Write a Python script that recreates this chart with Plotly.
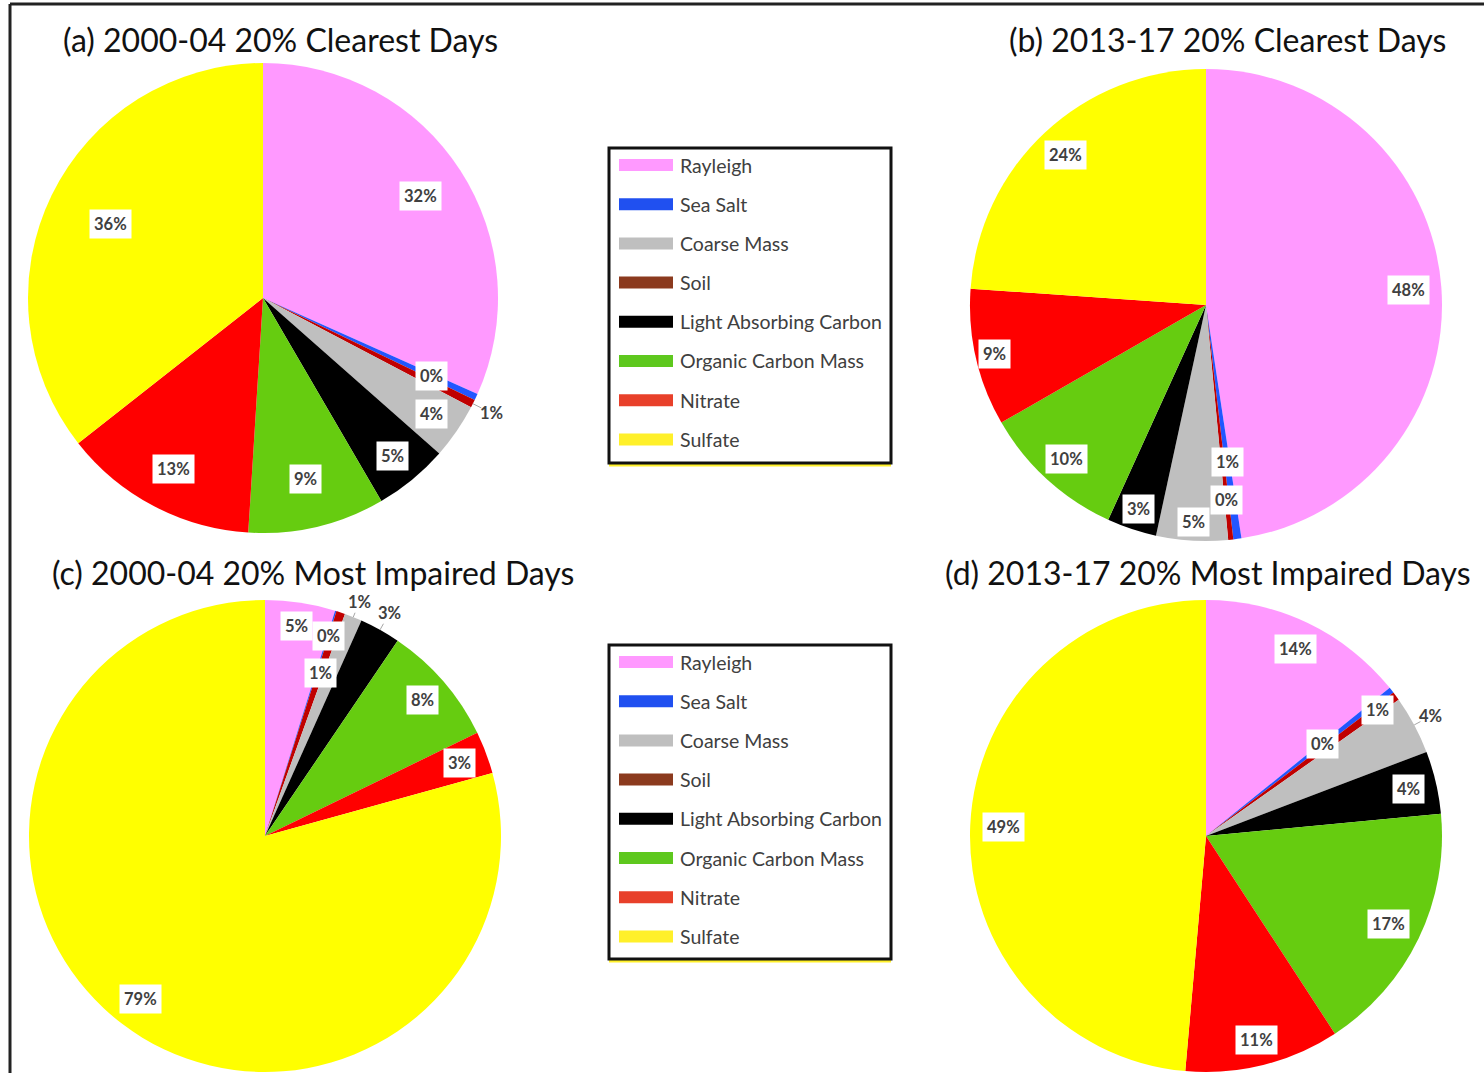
import math
import plotly.graph_objects as go

W, H = 1484, 1073

# ---- data -------------------------------------------------------------
slice_order = ["Rayleigh", "Sea Salt", "Soil", "Coarse Mass",
               "Light Absorbing Carbon", "Organic Carbon Mass", "Nitrate", "Sulfate"]
legend_order = ["Rayleigh", "Sea Salt", "Coarse Mass", "Soil",
                "Light Absorbing Carbon", "Organic Carbon Mass", "Nitrate", "Sulfate"]

titles = ["(a) 2000-04 20% Clearest Days", "(b) 2013-17 20% Clearest Days",
          "(c) 2000-04 20% Most Impaired Days", "(d) 2013-17 20% Most Impaired Days"]

# percent contributions, in slice_order
clear_2000_04 = [31.7, 0.45, 0.55, 3.8, 5.1, 9.4, 13.4, 35.6]
clear_2013_17 = [47.6, 0.55, 0.35, 4.9, 3.4, 9.9, 9.4, 23.9]
impaired_2000_04 = [4.8, 0.1, 0.6, 1.2, 2.8, 8.3, 2.9, 79.3]
impaired_2013_17 = [14.2, 0.4, 0.6, 4.0, 4.3, 17.3, 10.6, 48.6]

# ---- style ------------------------------------------------------------
slice_colors = {"Rayleigh": "#FF99FF", "Sea Salt": "#2256FF", "Soil": "#C00000",
                "Coarse Mass": "#BFBFBF", "Light Absorbing Carbon": "#000000",
                "Organic Carbon Mass": "#66CC10", "Nitrate": "#FF0000", "Sulfate": "#FFFF00"}
legend_colors = {"Rayleigh": "#FF99FF", "Sea Salt": "#2050F0", "Coarse Mass": "#BFBFBF",
                 "Soil": "#8B3A1E", "Light Absorbing Carbon": "#000000",
                 "Organic Carbon Mass": "#5EC81E", "Nitrate": "#E8402A", "Sulfate": "#FFF02A"}

# pie geometry in pixels (centre x, centre y, radius), title centre
pies = [
    dict(values=clear_2000_04, c=(263, 298, 235), title=(280, 40),
         lab_r=[0.80, 0.79, 1.09, 0.87, 0.87, 0.79, 0.82, 0.72]),
    dict(values=clear_2013_17, c=(1206, 305, 236), title=(1227, 40),
         lab_r=[0.86, 0.67, 0.83, 0.92, 0.91, 0.88, 0.92, 0.87]),
    dict(values=impaired_2000_04, c=(265, 836, 236), title=(313, 572),
         lab_r=[0.90, 0.89, 0.73, 1.07, 1.08, 0.88, 0.88, 0.87]),
    dict(values=impaired_2013_17, c=(1206, 836, 236), title=(1208, 572),
         lab_r=[0.88, 0.63, 0.90, 1.08, 0.88, 0.86, 0.89, 0.86]),
]

legend_boxes = [(609, 148, 891, 463), (609, 645, 891, 959)]
legend_first_y = [165, 662]
legend_step = 39.2

TXT = "#404040"
FONT = "Lato"


def px(x):
    return x / W


def py(y):
    return 1 - y / H


fig = go.Figure()
annotations = []
shapes = []

for i, p in enumerate(pies):
    cx, cy, r = p["c"]
    fig.add_trace(go.Pie(
        labels=slice_order, values=p["values"], sort=False, direction="clockwise",
        rotation=0, textinfo="none", hoverinfo="label+percent",
        marker=dict(colors=[slice_colors[s] for s in slice_order], line=dict(width=0)),
        domain=dict(x=[px(cx - r), px(cx + r)], y=[py(cy + r), py(cy - r)]),
        showlegend=False,
    ))
    total = sum(p["values"])
    cum = 0.0
    for v, f in zip(p["values"], p["lab_r"]):
        theta = math.radians((cum + v / 2) / total * 360)
        cum += v
        lx = cx + f * r * math.sin(theta)
        ly = cy - f * r * math.cos(theta)
        txt = f"{v / total * 100:.0f}%"
        outside = f > 1
        if outside:
            x0 = cx + 1.0 * r * math.sin(theta)
            y0 = cy - 1.0 * r * math.cos(theta)
            x1 = cx + (f - 0.05) * r * math.sin(theta)
            y1 = cy - (f - 0.05) * r * math.cos(theta)
            shapes.append(dict(type="line", xref="paper", yref="paper",
                               x0=px(x0), y0=py(y0), x1=px(x1), y1=py(y1),
                               line=dict(color="#A6A6A6", width=1)))
        annotations.append(dict(
            x=px(lx), y=py(ly), xref="paper", yref="paper", text=f"<b>{txt}</b>",
            showarrow=False, font=dict(family=FONT, size=16.5, color=TXT),
            bgcolor=None if outside else "white", borderpad=4,
            xanchor="center", yanchor="middle"))
    tx, ty = p["title"]
    annotations.append(dict(x=px(tx), y=py(ty), xref="paper", yref="paper",
                            text=titles[i], showarrow=False,
                            font=dict(family=FONT, size=32, color="#111111"),
                            xanchor="center", yanchor="middle"))

# legends
for (x0, y0, x1, y1), fy in zip(legend_boxes, legend_first_y):
    shapes.append(dict(type="line", xref="paper", yref="paper",
                       x0=px(x0), x1=px(x1), y0=py(y1 + 2), y1=py(y1 + 2),
                       line=dict(color="#FFF02A", width=3)))
    shapes.append(dict(type="rect", xref="paper", yref="paper",
                       x0=px(x0), x1=px(x1), y0=py(y1), y1=py(y0),
                       line=dict(color="#111111", width=3), fillcolor="white"))
    for k, name in enumerate(legend_order):
        yc = fy + k * legend_step
        shapes.append(dict(type="rect", xref="paper", yref="paper",
                           x0=px(x0 + 10), x1=px(x0 + 64), y0=py(yc + 6), y1=py(yc - 6),
                           line=dict(width=0), fillcolor=legend_colors[name]))
        annotations.append(dict(x=px(x0 + 69), y=py(yc), xref="paper", yref="paper",
                                text=name, showarrow=False,
                                font=dict(family=FONT, size=19.5, color=TXT),
                                xanchor="left", yanchor="middle"))

# outer frame
shapes.append(dict(type="line", xref="paper", yref="paper", x0=px(10), x1=px(W + 5),
                   y0=py(4), y1=py(4), line=dict(color="#222222", width=3)))
shapes.append(dict(type="line", xref="paper", yref="paper", x0=px(10), x1=px(10),
                   y0=py(4), y1=py(H + 5), line=dict(color="#222222", width=3)))

fig.update_layout(width=W, height=H, autosize=False,
                  margin=dict(l=0, r=0, t=0, b=0),
                  paper_bgcolor="white", plot_bgcolor="white",
                  annotations=annotations, shapes=shapes)

fig.write_html("out.html", config={"displayModeBar": False},
               post_script="document.body.style.margin='0';document.body.style.overflow='hidden';")
